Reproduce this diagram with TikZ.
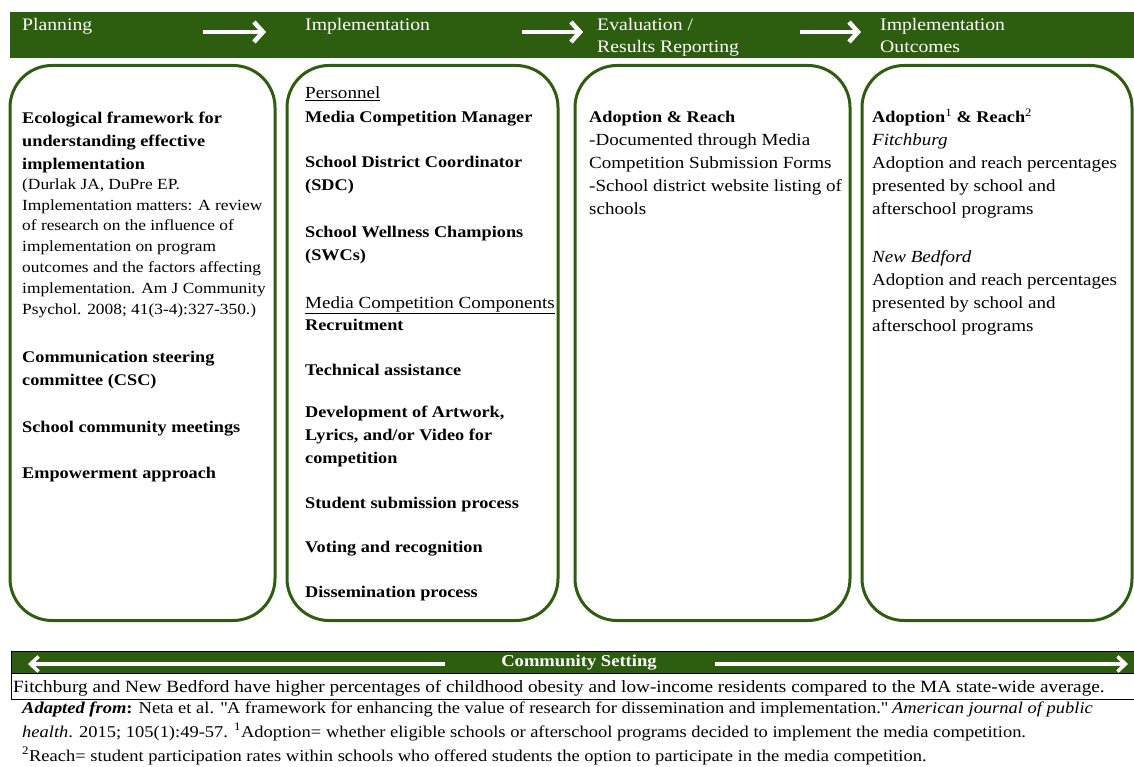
\documentclass[tikz,border=0pt]{standalone}
\usepackage{fontspec}
\setmainfont{Liberation Serif}[FakeStretch=1.12]
\usetikzlibrary{arrows.meta}

\definecolor{bandgreen}{RGB}{45,94,16}

\tikzset{
  phase/.style={draw=bandgreen, line width=3pt, rounded corners=42pt},
  hdr/.style={text=white, anchor=base west, inner sep=0pt, align=left,
    font=\fontsize{17.6}{22}\selectfont},
  itm/.style={anchor=base west, inner sep=0pt, align=left,
    font=\fontsize{16.3}{23}\selectfont\bfseries},
  txt/.style={anchor=base west, inner sep=0pt, align=left,
    font=\fontsize{17}{23}\selectfont},
  flow/.style={white, line width=4.5pt, -{Straight Barb[length=9pt,width=20pt]}},
  span/.style={white, line width=3.5pt, -{Straight Barb[length=8pt,width=15pt]}}
}

\begin{document}
\begin{tikzpicture}[x=1pt, y=-1pt]
	\useasboundingbox (0,0) rectangle (1134,767);

	% top band with the four phases (multi-line nodes sit on their last baseline)
	\fill [bandgreen] (10,12) rectangle (1134,58);
	\node [hdr] (plan) at (22,31) {Planning};
	\node [hdr] (impl) at (305,31) {Implementation};
	\node [hdr] (eval) at (597,53) {Evaluation /\\Results Reporting};
	\node [hdr] (outc) at (880,53) {Implementation\\Outcomes};

	\coordinate (A1) at (203,32);
	\coordinate (B1) at (266,32);
	\coordinate (A2) at (522,32);
	\coordinate (B2) at (583,32);
	\coordinate (A3) at (800,32);
	\coordinate (B3) at (861,32);
	\draw [flow] (A1) -- (B1);
	\draw [flow] (A2) -- (B2);
	\draw [flow] (A3) -- (B3);

	% phase boxes
	\draw [phase] (10,65.5) rectangle (275,620.5);
	\draw [phase] (287,65.5) rectangle (558,620.5);
	\draw [phase] (575,65.5) rectangle (850,620.5);
	\draw [phase] (862,65.5) rectangle (1132,620.5);

	% planning
	\node [itm] (eco) at (22,170) {Ecological framework for\\understanding effective\\implementation};
	\node [txt, font=\fontsize{15.5}{20.8}\selectfont] (cite) at (22,314)
		{(Durlak JA, DuPre EP.\\Implementation matters: A review\\of research on the influence of\\implementation on program\\outcomes and the factors affecting\\implementation. Am J Community\\Psychol. 2008; 41(3-4):327-350.)};
	\node [itm] (csc) at (22,385) {Communication steering\\committee (CSC)};
	\node [itm] (meet) at (22,432) {School community meetings};
	\node [itm] (emp) at (22,478) {Empowerment approach};

	% implementation
	\node [txt] (pers) at (305,99) {\underline{Personnel}};
	\node [itm] (mcm) at (305,123) {Media Competition Manager};
	\node [itm] (sdc) at (305,191) {School District Coordinator\\(SDC)};
	\node [itm] (swc) at (305,261) {School Wellness Champions\\(SWCs)};
	\node [txt] (comp) at (305,308) {\underline{Media Competition Components}};
	\node [itm] (recr) at (305,330) {Recruitment};
	\node [itm] (tech) at (305,375) {Technical assistance};
	\node [itm] (dev) at (305,463) {Development of Artwork,\\Lyrics, and/or Video for\\competition};
	\node [itm] (subm) at (305,508) {Student submission process};
	\node [itm] (vote) at (305,552) {Voting and recognition};
	\node [itm] (diss) at (305,597) {Dissemination process};

	% evaluation
	\node [txt] (reach) at (589,215) {\textbf{\fontsize{16.3}{23}\selectfont Adoption \& Reach}\\-Documented through Media\\Competition Submission Forms\\-School district website listing of\\schools};

	% outcomes
	\node [txt] (fitch) at (872,215) {\textbf{\fontsize{16.3}{23}\selectfont Adoption\textsuperscript{\mdseries 1} \& Reach\textsuperscript{\mdseries 2}}\\\textit{Fitchburg}\\Adoption and reach percentages\\presented by school and\\afterschool programs};
	\node [txt] (bedf) at (872,331) {\textit{New Bedford}\\Adoption and reach percentages\\presented by school and\\afterschool programs};

	% community setting band
	\fill [bandgreen] (11,651) rectangle (1134,673);
	\draw [black, line width=1pt] (11,651) rectangle (1135,699);
	\draw [black, line width=1pt] (11,673) -- (1134,673);
	\node [text=white, font=\fontsize{16.6}{20}\selectfont\bfseries, inner sep=0pt] (comm) at (579,663) {Community Setting};
	\coordinate (L1) at (445,664);
	\coordinate (L2) at (28,664);
	\coordinate (R1) at (715,664);
	\coordinate (R2) at (1128,664);
	\draw [span] (L1) -- (L2);
	\draw [span] (R1) -- (R2);
	\node [txt, font=\fontsize{17.2}{20}\selectfont] (sett) at (13,692) {Fitchburg and New Bedford have higher percentages of childhood obesity and low-income residents compared to the MA state-wide average.};

	% source and footnotes
	\node [txt, font=\fontsize{16.5}{24}\selectfont] (note) at (22,761)
		{\textbf{\textit{Adapted from}:} Neta et al. \textquotedbl A framework for enhancing the value of research for dissemination and implementation.\textquotedbl\ \textit{American journal of public}\\\textit{health}. 2015; 105(1):49-57. \textsuperscript{1}Adoption= whether eligible schools or afterschool programs decided to implement the media competition.\\\textsuperscript{2}Reach= student participation rates within schools who offered students the option to participate in the media competition.};

 \end{tikzpicture}
\end{document}
